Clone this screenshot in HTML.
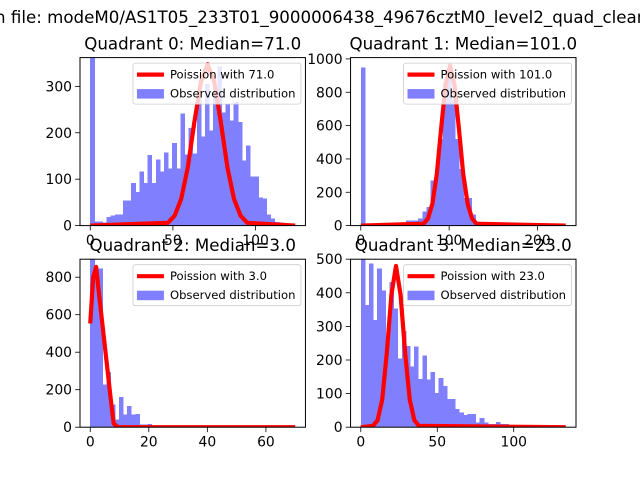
<!DOCTYPE html>
<html><head><meta charset="utf-8"><style>
body{margin:0;background:#fff;}
svg{display:block;font-family:"DejaVu Sans","Liberation Sans",sans-serif;}
</style></head><body>
<svg id="chart" width="640" height="480" viewBox="0 0 640 480">
<text x="-5" y="23" font-size="16.67" fill="#000">n file: modeM0/AS1T05_233T01_9000006438_49676cztM0_level2_quad_clean.evt</text>
</svg>
<script>
// ---- data ----
const titles = ["Quadrant 0: Median=71.0","Quadrant 1: Median=101.0","Quadrant 2: Median=3.0","Quadrant 3: Median=23.0"];
const medians = [71.0, 101.0, 3.0, 23.0];
const histMax = [124, 232, 70, 134];
const yMax = [362, 1008, 896, 500];
const q0Counts = [361,9,9,7,19,22,24,24,54,54,92,72,117,92,152,92,142,117,158,123,178,123,242,153,210,155,277,192,305,205,287,343,244,262,227,266,223,140,173,106,106,61,58,24,15,8,7,3,2,1];
const q1Counts = [950,0,0,0,0,0,0,0,0,10,10,30,30,30,42,86,112,272,300,520,860,900,760,520,340,165,165,66,12,0,0,0,0,0,0,0,0,0,0,0,0,0,0,0,0,0,0,0,0,0];
const q2Counts = [896,846,846,228,295,120,40,162,68,114,68,70,14,14,18,9,9,0,0,0,0,0,0,0,0,0,0,0,0,0,0,0,0,0,0,0,0,0,0,0,0,0,0,0,0,0,0,0,0,0];
const q3Counts = [500,364,487,319,472,407,247,432,354,204,287,242,180,240,144,214,142,164,102,147,122,84,84,54,44,37,39,39,14,27,14,9,9,16,10,10,3,2,2,1,1,0,0,0,1,0,0,0,0,1];
const q0CurveX = [0,47,51,55,59,63,67,71,75,79,83,87,91,95,124];
const q0CurveY = [0,6,21,57,125,223,310,348,310,223,125,57,21,6,0];
const q1CurveX = [0,71,76,81,86,91,96,101,106,111,116,121,126,131,232];
const q1CurveY = [0,11,42,130,307,586,845,960,845,586,307,130,42,11,0];
const q2CurveX = [0,1,2,3,4,5,6,7,8,9,10,70];
const q2CurveY = [553,800,855,710,570,430,290,150,20,5,0,0];
const q3CurveX = [0,8,11,14,17,20,23,26,29,32,35,38,134];
const q3CurveY = [0,4,21,82,221,394,480,394,221,82,21,4,0];
const xTicks = [[0,50,100],[0,100,200],[0,20,40,60],[0,50,100]];
const yTicks = [[0,100,200,300],[0,200,400,600,800,1000],[0,200,400,600,800],[0,100,200,300,400,500]];

const counts=[q0Counts,q1Counts,q2Counts,q3Counts];
const curvesX=[q0CurveX,q1CurveX,q2CurveX,q3CurveX];
const curvesY=[q0CurveY,q1CurveY,q2CurveY,q3CurveY];
const NS="http://www.w3.org/2000/svg";
const svg=document.getElementById('chart');
function mk(tag,attrs,parent){const e=document.createElementNS(NS,tag);for(const k in attrs)e.setAttribute(k,attrs[k]);(parent||svg).appendChild(e);return e;}
const boxes=[[80,57.6],[350.55,57.6],[80,259.2],[350.55,259.2]];
const W=225.45,H=168;
for(let q=0;q<4;q++){
  const [L,T]=boxes[q];const B=T+H;
  const g=mk('g',{});
  
  
  const m=histMax[q],pad=m*0.05,x0=-pad,x1=m+pad;
  const sx=v=>L+(v-x0)/(x1-x0)*W;
  const sy=v=>B-v/yMax[q]*H;
  const cp=mk('clipPath',{id:'clip'+q},g);mk('rect',{x:L,y:T,width:W,height:H},cp);
  const bars=mk('g',{'clip-path':'url(#clip'+q+')','shape-rendering':'crispEdges'},g);
  
  
  const n=counts[q].length,bw=m/n;
  counts[q].forEach((c,i)=>{
    if(c<=0)return;
    const r=mk('rect',{x:sx(i*bw),y:sy(c),width:sx((i+1)*bw)-sx(i*bw)+0.5,height:sy(0)-sy(c),fill:'#8080ff'},bars);
    
    
  });
  const pts=curvesX[q].map((x,i)=>sx(x).toFixed(2)+','+sy(curvesY[q][i]).toFixed(2)).join(' ');
  const pl=mk('polyline',{points:pts,fill:'none',stroke:'#ff0000','stroke-width':4.2,'stroke-linejoin':'round','clip-path':'url(#clip'+q+')'},g);
  
  
  const fr=mk('rect',{x:L,y:T,width:W,height:H,fill:'none',stroke:'#000','stroke-width':1},g);
  
  
  xTicks[q].forEach(v=>{
    const x=sx(v);
    mk('line',{x1:x,x2:x,y1:B,y2:B+4.9,stroke:'#000','stroke-width':0.8},g);
    const t=mk('text',{x:x,y:B+19.5,'font-size':13.9,'text-anchor':'middle'},g);
    t.textContent=v;
    
    
  });
  yTicks[q].forEach(v=>{
    const y=sy(v);
    mk('line',{x1:L-4.9,x2:L,y1:y,y2:y,stroke:'#000','stroke-width':0.8},g);
    const t=mk('text',{x:L-8,y:y+5,'font-size':13.9,'text-anchor':'end'},g);
    t.textContent=v;
    
    
  });
  const tt=mk('text',{x:L+W/2,y:T-8,'font-size':16.67,'text-anchor':'middle'},g);
  tt.textContent=titles[q];
  
  
  // legend
  const lg=mk('g',{},g);
  
  
  const lx=L+W-172.5,ly=T+5.5;
  mk('rect',{x:lx,y:ly,width:168,height:41,rx:2.5,fill:'#fff','fill-opacity':0.8,stroke:'#cccccc','stroke-width':0.8},lg);
  mk('line',{x1:lx+4,x2:lx+31,y1:ly+11.5,y2:ly+11.5,stroke:'#ff0000','stroke-width':4.2},lg);
  mk('rect',{x:lx+4,y:ly+26,width:27,height:9.5,fill:'#8080ff'},lg);
  const e1=mk('text',{x:lx+37,y:ly+15.5,'font-size':11.6},lg);
  e1.textContent='Poission with '+medians[q].toFixed(1);
  
  
  const e2=mk('text',{x:lx+37,y:ly+34.5,'font-size':11.6},lg);
  e2.textContent='Observed distribution';
  
  
}
</script>
</body></html>
